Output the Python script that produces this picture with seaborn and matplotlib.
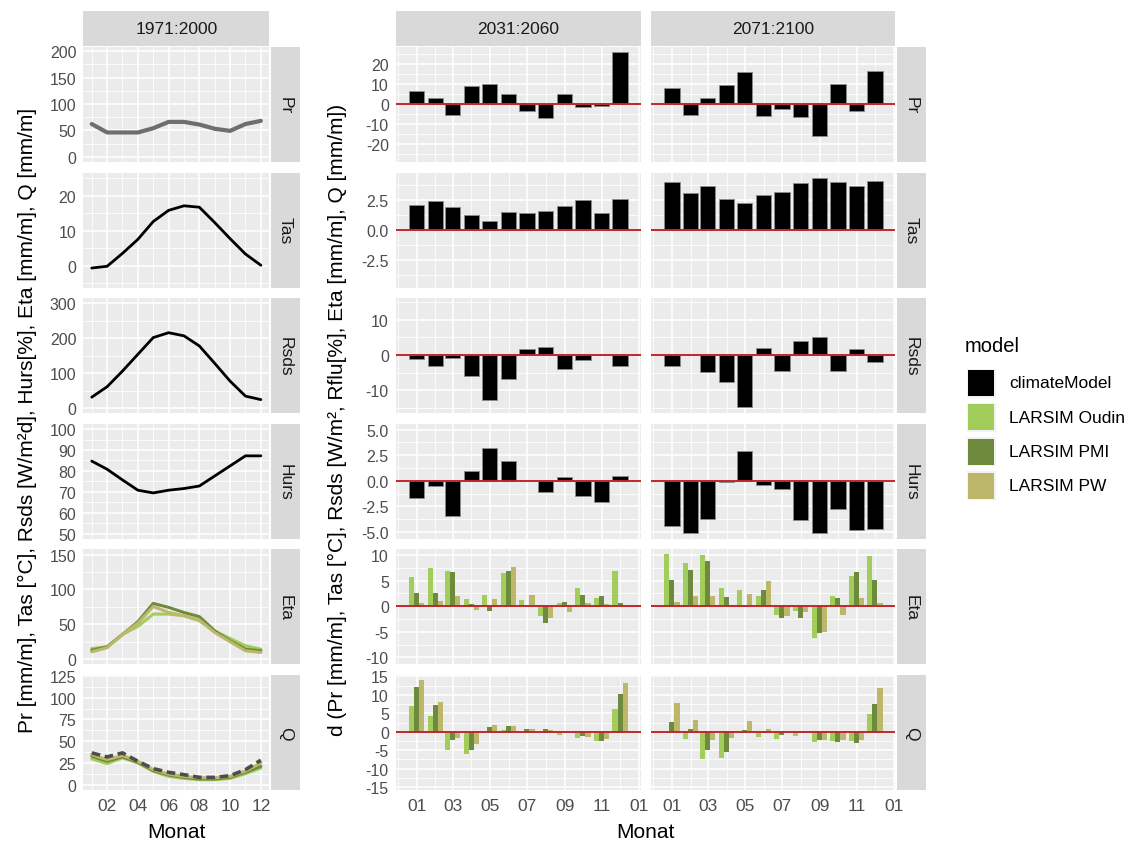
import numpy as np
import pandas as pd
import matplotlib
matplotlib.use("Agg")
import matplotlib.pyplot as plt
import seaborn as sns
from matplotlib.patches import Rectangle

# ---------------- data ----------------
months = list(range(1, 13))
month_day = [0, 31, 59, 90, 120, 151, 181, 212, 243, 273, 304, 334]
variables = ["Pr", "Tas", "Rsds", "Hurs", "Eta", "Q"]
periods = ["1971:2000", "2031:2060", "2071:2100"]
hyd_models = ["LARSIM Oudin", "LARSIM PMI", "LARSIM PW"]
legend_models = ["climateModel", "LARSIM Oudin", "LARSIM PMI", "LARSIM PW"]
model_colors = ["#000000", "#A2CD5A", "#6E8B3D", "#BDB76B"]

# baseline 1971:2000
base_pr = [62, 46, 46, 46, 54, 66, 66, 61, 53, 49, 62, 68]
base_tas = [-0.7, -0.2, 3.5, 7.5, 12.6, 15.8, 17.1, 16.7, 12.3, 7.7, 3.3, 0.1]
base_rsds = [31, 61, 106, 154, 202, 216, 207, 178, 128, 77, 34, 24]
base_hurs = [84.7, 80.8, 75.7, 70.8, 69.5, 70.8, 71.6, 72.8, 77.6, 82.4, 87.2, 87.2]
base_eta_oudin = [15.3, 17.7, 35.5, 47, 64.7, 64.7, 62.3, 55, 40, 29.7, 19.2, 14.4]
base_eta_pmi = [12.9, 17.7, 35.5, 53.7, 80, 74.3, 67, 61, 40.7, 26.4, 14.4, 12]
base_eta_pw = [10.5, 16.5, 35.5, 51.7, 75.6, 67.1, 62.3, 56, 38.3, 25, 12, 9.6]
base_q_obs = [36.6, 32, 36.6, 27, 18.5, 14.3, 11.6, 8.5, 8.5, 10.4, 17.4, 28.2]
base_q_oudin = [29.7, 24.3, 30.9, 25, 15.4, 9.6, 7.3, 5.8, 5.8, 7.3, 12.7, 19.3]
base_q_pmi = [32.8, 27, 32, 25.8, 16.2, 11.2, 8.5, 6.6, 6.6, 8.5, 14.3, 21.2]
base_q_pw = [34.7, 28.9, 33.6, 27, 17.4, 12.3, 9.6, 8.1, 8.1, 9.6, 15.8, 25]

# changes (climate model)
d_pr_2031 = [6.5, 3.2, -5.3, 9.3, 10.2, 5.2, -3.7, -7.2, 5.2, -1.5, -0.8, 26.0]
d_pr_2071 = [8.0, -5.7, 3.2, 9.5, 16.0, -6.2, -2.3, -6.7, -16.2, 10.3, -3.7, 16.5]
d_tas_2031 = [2.06, 2.42, 1.86, 1.22, 0.75, 1.47, 1.39, 1.53, 1.94, 2.5, 1.39, 2.56]
d_tas_2071 = [3.94, 3.06, 3.61, 2.56, 2.19, 2.89, 3.14, 3.92, 4.31, 3.94, 3.61, 4.08]
d_rsds_2031 = [-1.2, -3.1, -0.8, -5.9, -12.9, -6.9, 1.8, 2.4, -4.0, -1.5, 0.0, -3.1]
d_rsds_2071 = [-3.0, 0.0, -4.9, -7.6, -14.9, 2.1, -4.7, 3.9, 5.0, -4.6, 1.7, -1.9]
d_hurs_2031 = [-1.73, -0.49, -3.42, 0.98, 3.19, 1.89, 0.0, -1.14, 0.39, -1.53, -2.05, 0.49]
d_hurs_2071 = [-4.46, -5.15, -3.75, -0.16, 2.93, -0.42, -0.85, -3.84, -5.08, -2.74, -4.85, -4.76]

# changes (hydrological models)
d_eta_2031_oudin = [5.66, 7.49, 6.84, 1.37, 2.21, 6.51, 1.3, -1.82, 0.59, 3.58, 1.69, 6.84]
d_eta_2031_pmi = [2.54, 2.6, 6.77, 0.39, -0.91, 6.84, 0.0, -3.19, 0.91, 2.21, 2.02, 0.65]
d_eta_2031_pw = [0.65, 1.1, 1.95, -0.72, 1.37, 7.68, 2.21, -2.34, -1.1, 0.65, 0.39, 0.0]
d_eta_2071_oudin = [10.2, 8.46, 10.0, 3.5, 3.13, 2.02, -1.63, -0.85, -6.25, 2.08, 5.92, 9.77]
d_eta_2071_pmi = [5.2, 7.1, 8.85, 1.89, 0.0, 3.13, -2.34, -2.34, -5.14, 1.69, 6.77, 5.08]
d_eta_2071_pw = [0.91, 2.08, 1.95, 0.0, 2.41, 4.88, -1.95, -1.04, -4.95, -1.63, 1.69, 0.72]
d_q_2031_oudin = [6.9, 4.26, -4.9, -6.07, 0.0, 0.36, 0.0, 0.0, -0.82, -1.63, -2.63, 6.16]
d_q_2031_pmi = [12.05, 7.16, -2.17, -4.98, 1.18, 1.45, 0.72, 0.72, 0.0, -1.09, -2.45, 10.33]
d_q_2031_pw = [14.1, 8.15, -1.63, -3.35, 1.72, 1.45, 0.72, 0.36, 0.0, -1.36, -2.08, 13.22]
d_q_2071_oudin = [-0.45, -2.08, -7.34, -7.07, -0.45, -1.54, -1.9, -1.09, -2.9, -2.63, -2.63, 4.8]
d_q_2071_pmi = [2.54, 0.63, -4.89, -5.43, 0.36, -0.45, -0.82, -0.45, -2.17, -2.81, -3.17, 7.43]
d_q_2071_pw = [7.7, 3.26, -2.36, -1.81, 2.81, 0.72, 0.0, 0.0, -2.17, -2.36, -2.17, 11.78]

left_xticks = [2, 4, 6, 8, 10, 12]
left_xticklabels = ["02", "04", "06", "08", "10", "12"]
mid_xticks = [0, 59, 120, 181, 243, 304, 365]
mid_xticklabels = ["01", "03", "05", "07", "09", "11", "01"]

# ---------------- style ----------------
sns.set_theme(style="darkgrid")
plt.rcParams["font.family"] = ["Liberation Sans", "DejaVu Sans"]

W, H = 1131, 845
fig = plt.figure(figsize=(W / 100, H / 100), dpi=100)
fig.patch.set_facecolor("white")

PANEL_BG = "#EBEBEB"
STRIP_BG = "#D9D9D9"
TICK_COL = "#4D4D4D"
ZERO_COL = "#C0272D"
palette = dict(zip(legend_models, model_colors))

row_top = [48 + i * 125.6 for i in range(6)]
row_h = 115
col_x = [(83.3, 269.3), (395.7, 640.5), (651.0, 895.3)]


def add_ax(x0, x1, y0, y1):
    return fig.add_axes([x0 / W, 1 - y1 / H, (x1 - x0) / W, (y1 - y0) / H])


def add_strip(x0, x1, y0, y1, text, rot=0):
    fig.add_artist(Rectangle((x0 / W, 1 - y1 / H), (x1 - x0) / W, (y1 - y0) / H,
                             transform=fig.transFigure, facecolor=STRIP_BG,
                             edgecolor="none"))
    fig.text((x0 + x1) / 2 / W, 1 - (y0 + y1) / 2 / H, text, rotation=rot,
             ha="center", va="center", fontsize=12.5, color="#1A1A1A")


def minors(maj, lim):
    maj = list(maj)
    step0 = maj[1] - maj[0]
    step1 = maj[-1] - maj[-2]
    ext = [maj[0] - step0] + maj + [maj[-1] + step1]
    mids = [(a + b) / 2 for a, b in zip(ext[:-1], ext[1:])]
    return [m for m in mids if lim[0] <= m <= lim[1]]


def style(ax, xlim, ylim, xmaj, xmin, ymaj, ylab, show_x, xlab, show_y):
    ax.set_xlim(xlim)
    ax.set_ylim(ylim)
    ax.set_facecolor(PANEL_BG)
    for s in ax.spines.values():
        s.set_visible(False)
    ax.set_xticks(xmaj)
    ax.set_xticks(xmin, minor=True)
    ax.set_yticks(ymaj)
    ax.set_yticks(minors(ymaj, ylim), minor=True)
    ax.grid(True, which="major", color="white", lw=1.1)
    ax.grid(True, which="minor", color="white", lw=0.55)
    ax.set_axisbelow(True)
    ax.tick_params(which="minor", length=0)
    ax.set_xlabel("")
    ax.set_ylabel("")
    if show_x:
        ax.set_xticklabels(xlab)
        ax.tick_params(axis="x", which="major", length=3, width=0.8,
                       color="#333333", labelsize=12.5, labelcolor=TICK_COL, pad=2.5)
    else:
        ax.set_xticklabels([])
        ax.tick_params(axis="x", which="major", length=0)
    if show_y:
        ax.set_yticklabels(ylab)
        ax.tick_params(axis="y", which="major", length=3, width=0.8,
                       color="#333333", labelsize=11.5, labelcolor=TICK_COL, pad=2)
    else:
        ax.set_yticklabels([])
        ax.tick_params(axis="y", which="major", length=0)


# ---------------- left column: baseline lines ----------------
left_ylims = [(-10, 208), (-6.3, 26.6), (-15, 315), (47.6, 102.5), (-7.5, 157.5), (-6, 126)]
left_yticks = [[0, 50, 100, 150, 200], [0, 10, 20], [0, 100, 200, 300],
               [50, 60, 70, 80, 90, 100], [0, 50, 100, 150], [0, 25, 50, 75, 100, 125]]

lx0, lx1 = col_x[0]
for i, var in enumerate(variables):
    ax = add_ax(lx0, lx1, row_top[i], row_top[i] + row_h)
    if var == "Pr":
        sns.lineplot(x=months, y=base_pr, color="#6E6E6E", lw=3.0, ax=ax)
    elif var == "Tas":
        sns.lineplot(x=months, y=base_tas, color="black", lw=2.0, ax=ax)
    elif var == "Rsds":
        sns.lineplot(x=months, y=base_rsds, color="black", lw=2.0, ax=ax)
    elif var == "Hurs":
        sns.lineplot(x=months, y=base_hurs, color="black", lw=2.0, ax=ax)
    elif var == "Eta":
        df = pd.DataFrame({"month": months * 3,
                           "value": base_eta_oudin + base_eta_pmi + base_eta_pw,
                           "model": sum([[m] * 12 for m in hyd_models], [])})
        sns.lineplot(data=df, x="month", y="value", hue="model", hue_order=hyd_models,
                     palette=palette, lw=2.2, legend=False, ax=ax)
    else:
        df = pd.DataFrame({"month": months * 3,
                           "value": base_q_oudin + base_q_pmi + base_q_pw,
                           "model": sum([[m] * 12 for m in hyd_models], [])})
        sns.lineplot(data=df, x="month", y="value", hue="model", hue_order=hyd_models,
                     palette=palette, lw=2.2, legend=False, ax=ax)
        sns.lineplot(x=months, y=base_q_obs, color="#4D4D4D", lw=2.6,
                     dashes=False, ax=ax).lines[-1].set_dashes((2.4, 1.3))
    style(ax, (0.45, 12.55), left_ylims[i], left_xticks, [1, 3, 5, 7, 9, 11],
          left_yticks[i], [str(v) for v in left_yticks[i]],
          i == 5, left_xticklabels, True)
    add_strip(lx1 + 1.2, lx1 + 30.5, row_top[i], row_top[i] + row_h, var, rot=-90)

add_strip(lx0, lx1, 11.5, 47, periods[0])

# ---------------- middle columns: change bars ----------------
mid_ylims = [(-29, 28.6), (-4.83, 4.76), (-16.6, 16.2), (-5.67, 5.56), (-11.35, 11.1), (-15.8, 15.4)]
mid_yticks = [[-20, -10, 0, 10, 20], [-2.5, 0.0, 2.5], [-10, 0, 10],
              [-5.0, -2.5, 0.0, 2.5, 5.0], [-10, -5, 0, 5, 10], [-15, -10, -5, 0, 5, 10, 15]]
mid_ylabels = [["-20", "-10", "0", "10", "20"], ["-2.5", "0.0", "2.5"], ["-10", "0", "10"],
               ["-5.0", "-2.5", "0.0", "2.5", "5.0"], ["-10", "-5", "0", "5", "10"],
               ["-15", "-10", "-5", "0", "5", "10", "15"]]
mid_xminor = [-31, 31, 90, 151, 212, 273, 334]

climate_changes = {
    ("Pr", 1): d_pr_2031, ("Pr", 2): d_pr_2071,
    ("Tas", 1): d_tas_2031, ("Tas", 2): d_tas_2071,
    ("Rsds", 1): d_rsds_2031, ("Rsds", 2): d_rsds_2071,
    ("Hurs", 1): d_hurs_2031, ("Hurs", 2): d_hurs_2071,
}
hyd_changes = {
    ("Eta", 1): [d_eta_2031_oudin, d_eta_2031_pmi, d_eta_2031_pw],
    ("Eta", 2): [d_eta_2071_oudin, d_eta_2071_pmi, d_eta_2071_pw],
    ("Q", 1): [d_q_2031_oudin, d_q_2031_pmi, d_q_2031_pw],
    ("Q", 2): [d_q_2071_oudin, d_q_2071_pmi, d_q_2071_pw],
}

for c in (1, 2):
    cx0, cx1 = col_x[c]
    for i, var in enumerate(variables):
        ax = add_ax(cx0, cx1, row_top[i], row_top[i] + row_h)
        if (var, c) in climate_changes:
            sns.barplot(x=month_day, y=climate_changes[(var, c)], native_scale=True,
                        width=0.9, color="black", saturation=1, errorbar=None,
                        edgecolor="#8C8C8C", linewidth=0.6, ax=ax)
        else:
            vals = hyd_changes[(var, c)]
            df = pd.DataFrame({"day": month_day * 3,
                               "value": vals[0] + vals[1] + vals[2],
                               "model": sum([[m] * 12 for m in hyd_models], [])})
            sns.barplot(data=df, x="day", y="value", hue="model", hue_order=hyd_models,
                        palette=palette, native_scale=True, width=0.9, saturation=1,
                        errorbar=None, linewidth=0, legend=False, ax=ax)
        ax.axhline(0, color=ZERO_COL, lw=1.4, zorder=5)
        style(ax, (-34.3, 367.5), mid_ylims[i], mid_xticks, mid_xminor,
              mid_yticks[i], mid_ylabels[i], i == 5, mid_xticklabels, c == 1)
        if c == 2:
            add_strip(cx1 + 1.2, cx1 + 30.5, row_top[i], row_top[i] + row_h, var, rot=-90)
    add_strip(cx0, cx1, 11.5, 47, periods[c])

# ---------------- axis titles ----------------
fig.text(27 / W, 1 - 420 / H,
         "Pr [mm/m], Tas [°C], Rsds [W/m²d], Hurs[%], Eta [mm/m], Q [mm/m]",
         rotation=90, ha="center", va="center", fontsize=15, color="black")
fig.text(337 / W, 1 - 420 / H,
         "d (Pr [mm/m], Tas [°C], Rsds [W/m², Rflu[%], Eta [mm/m], Q [mm/m])",
         rotation=90, ha="center", va="center", fontsize=15, color="black")
fig.text((lx0 + lx1) / 2 / W, 1 - 833 / H, "Monat", ha="center", va="center",
         fontsize=15, color="black")
fig.text((col_x[1][0] + col_x[2][1]) / 2 / W, 1 - 833 / H, "Monat", ha="center",
         va="center", fontsize=15, color="black")

# ---------------- legend ----------------
fig.text(965 / W, 1 - 347 / H, "model", ha="left", va="center", fontsize=14.5,
         color="black")
key_tops = [369.5, 403.8, 438.1, 472.4]
for top, name, col in zip(key_tops, legend_models, model_colors):
    fig.add_artist(Rectangle((966.5 / W, 1 - (top + 29) / H), 29.5 / W, 29 / H,
                             transform=fig.transFigure, facecolor="#F2F2F2",
                             edgecolor="none"))
    fig.add_artist(Rectangle((968 / W, 1 - (top + 27.5) / H), 26.5 / W, 26 / H,
                             transform=fig.transFigure, facecolor=col,
                             edgecolor="none"))
    fig.text(1009 / W, 1 - (top + 14.5) / H, name, ha="left", va="center",
             fontsize=12.5, color="black")

fig.savefig("out.png", dpi=100, facecolor="white")
